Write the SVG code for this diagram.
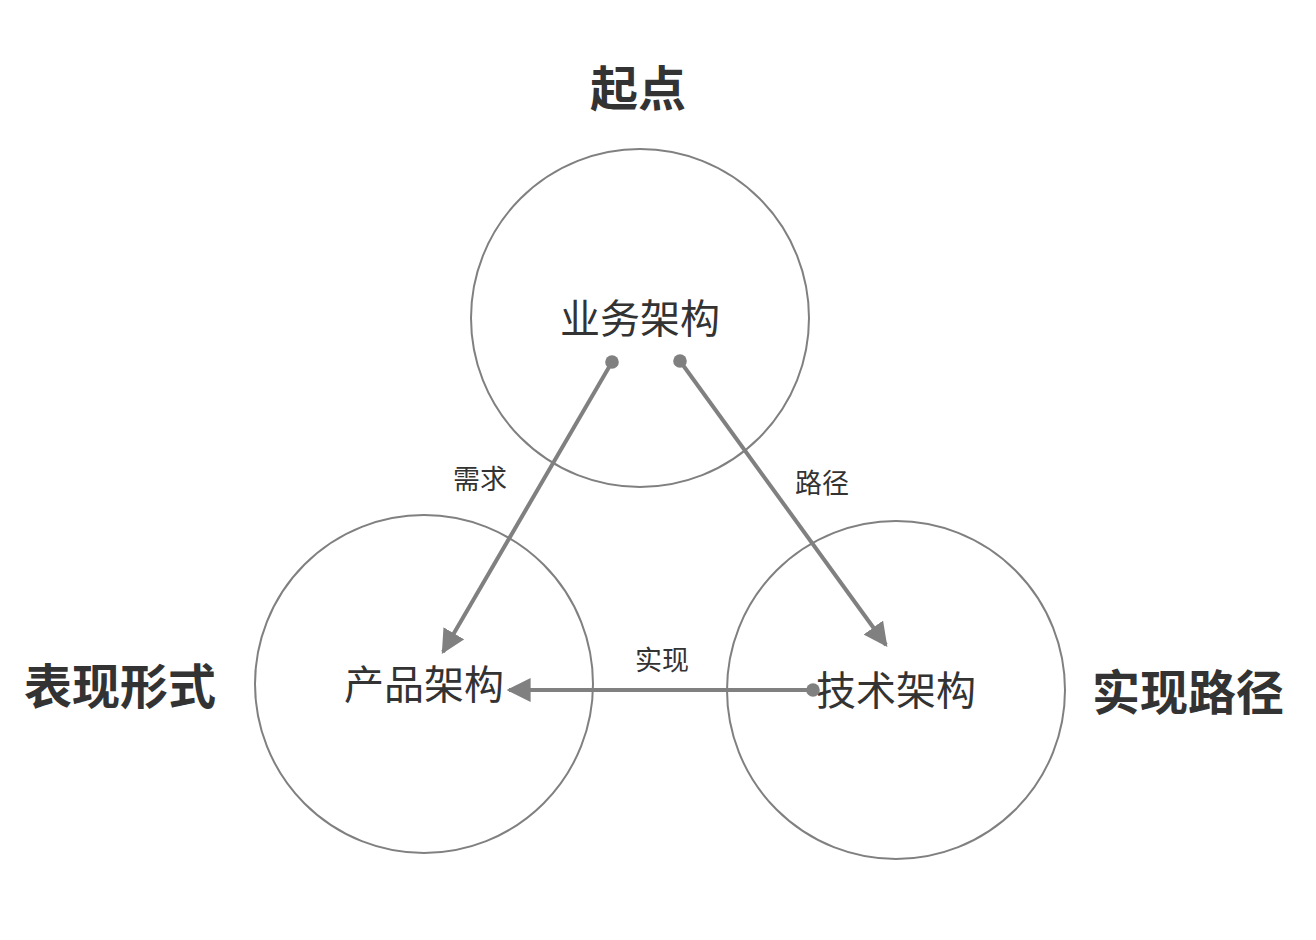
<svg xmlns="http://www.w3.org/2000/svg" width="1316" height="940" viewBox="0 0 1316 940">
<defs>
<style>
.c{fill:none;stroke:#808080;stroke-width:2}
.e{stroke:#808080;stroke-width:4;fill:none}
.t{font-family:"Noto Sans CJK SC","Noto Sans",sans-serif;fill:#333;text-anchor:middle}
.n{font-size:40px}
.h{font-size:48px;font-weight:bold}
.l{font-size:27px}
</style>
<marker id="arr" viewBox="0 0 10 10" refX="9" refY="5" markerWidth="6" markerHeight="6" markerUnits="strokeWidth" orient="auto"><path d="M0,0 L10,5 L0,10 z" fill="#808080"/></marker>
<marker id="dot" viewBox="0 0 10 10" refX="5" refY="5" markerWidth="3.4" markerHeight="3.4" markerUnits="strokeWidth"><circle cx="5" cy="5" r="5" fill="#808080"/></marker>
</defs>
<rect width="1316" height="940" fill="#fff"/>
<g id="biz"><circle class="c" cx="640" cy="318" r="169"/><text class="t n" x="640" y="333">业务架构</text></g>
<g id="prod"><circle class="c" cx="424" cy="684" r="169"/><text class="t n" x="424" y="699">产品架构</text></g>
<g id="tech"><circle class="c" cx="896" cy="690" r="169"/><text class="t n" x="896" y="705">技术架构</text></g>
<g id="titles">
<text class="t h" x="638" y="106">起点</text>
<text class="t h" x="120" y="704">表现形式</text>
<text class="t h" x="1188" y="710">实现路径</text>
</g>
<g id="connectors">
<line class="e" x1="612" y1="362" x2="443" y2="652" marker-start="url(#dot)" marker-end="url(#arr)"/>
<line class="e" x1="680" y1="361" x2="886" y2="645" marker-start="url(#dot)" marker-end="url(#arr)"/>
<line class="e" x1="813" y1="690" x2="509" y2="690" marker-start="url(#dot)" marker-end="url(#arr)"/>
<text class="t l" x="480" y="489">需求</text>
<text class="t l" x="822" y="493">路径</text>
<text class="t l" x="662" y="670">实现</text>
</g>
</svg>
